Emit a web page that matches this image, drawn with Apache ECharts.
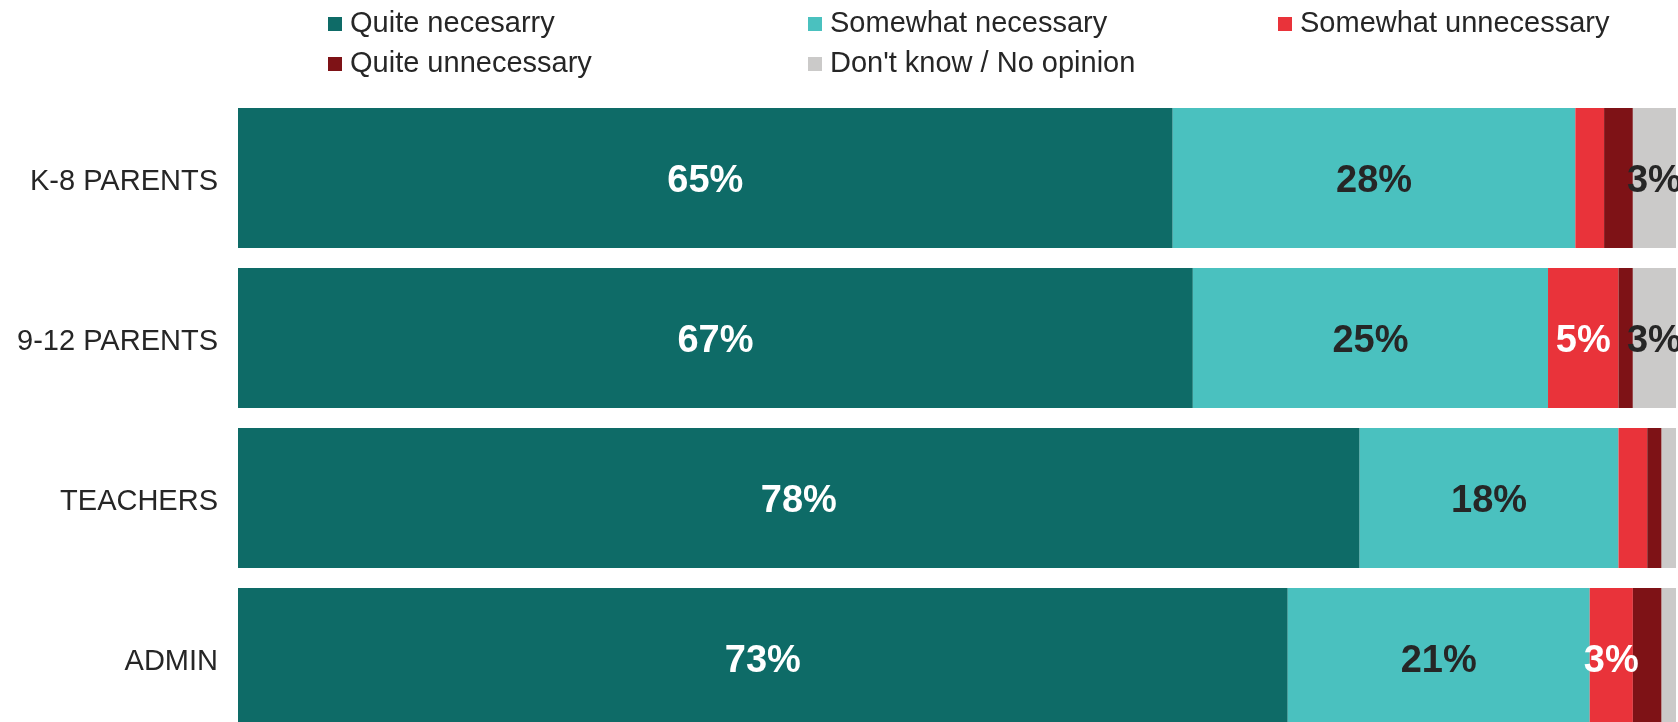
<!DOCTYPE html>
<html>
<head>
<meta charset="utf-8">
<script src="https://cdn.jsdelivr.net/npm/echarts@6/dist/echarts.min.js"></script>
<style>
html,body{margin:0;padding:0;background:#fff;}
#chart{width:1678px;height:722px;}
</style>
</head>
<body>
<div id="chart"></div>
<script>
const categories = ['K-8 PARENTS', '9-12 PARENTS', 'TEACHERS', 'ADMIN'];
const seriesNames = ['Quite necesarry', 'Somewhat necessary', 'Somewhat unnecessary', 'Quite unnecessary', "Don't know / No opinion"];

const quiteNecessary = [65, 66.4, 78, 73];
const somewhatNecessary = [28, 24.7, 18, 21];
const somewhatUnnecessary = [2, 4.9, 2, 3];
const quiteUnnecessary = [2, 1, 1, 2];
const dontKnow = [3, 3, 1, 1];

const quiteNecessaryLabels = ['65%', '67%', '78%', '73%'];
const somewhatNecessaryLabels = ['28%', '25%', '18%', '21%'];
const somewhatUnnecessaryLabels = ['', '5%', '', '3%'];
const quiteUnnecessaryLabels = ['', '', '', ''];
const dontKnowLabels = ['3%', '3%', '', ''];

const colors = ['#0E6B67', '#4AC1BF', '#E9333A', '#7E1216', '#CBCAC9'];
const labelColors = ['#FFFFFF', '#262626', '#FFFFFF', '#FFFFFF', '#262626'];

const allValues = [quiteNecessary, somewhatNecessary, somewhatUnnecessary, quiteUnnecessary, dontKnow];
const allLabels = [quiteNecessaryLabels, somewhatNecessaryLabels, somewhatUnnecessaryLabels, quiteUnnecessaryLabels, dontKnowLabels];

const legendPos = [[328, 9], [808, 9], [1278, 9], [328, 49], [808, 49]];

const font = '"Liberation Sans", Arial, sans-serif';

const chart = echarts.init(document.getElementById('chart'), null, {renderer: 'canvas'});

const legends = seriesNames.map((n, i) => ({
  data: [n],
  left: legendPos[i][0],
  top: legendPos[i][1],
  padding: 0,
  itemGap: 0,
  itemWidth: 14,
  itemHeight: 14,
  icon: 'rect',
  selectedMode: false,
  textStyle: {fontFamily: font, fontSize: 29, color: '#262626', lineHeight: 30, padding: [0, 0, 0, 3]}
}));

const series = seriesNames.map((n, i) => ({
  name: n,
  type: 'bar',
  stack: 'total',
  barCategoryGap: '12.5%',
  itemStyle: {color: colors[i]},
  label: {
    show: true,
    position: 'inside',
    offset: [0, 4],
    fontFamily: font,
    fontSize: 38,
    fontWeight: 'bold',
    color: labelColors[i],
    formatter: p => allLabels[i][p.dataIndex]
  },
  emphasis: {disabled: true},
  data: allValues[i]
}));

chart.setOption({
  animation: false,
  backgroundColor: '#fff',
  legend: legends,
  grid: {left: 238, width: 1438, top: 98, height: 640, containLabel: false, outerBoundsMode: 'none'},
  xAxis: {type: 'value', min: 0, max: 100, show: false},
  yAxis: {
    type: 'category',
    data: categories,
    inverse: true,
    axisLine: {show: false},
    axisTick: {show: false},
    axisLabel: {
      margin: 20,
      formatter: v => '{c|' + v + '}',
      rich: {c: {fontFamily: font, fontSize: 29, color: '#262626', padding: [7, 0, 0, 0]}}
    }
  },
  series: series
});
</script>
</body>
</html>
